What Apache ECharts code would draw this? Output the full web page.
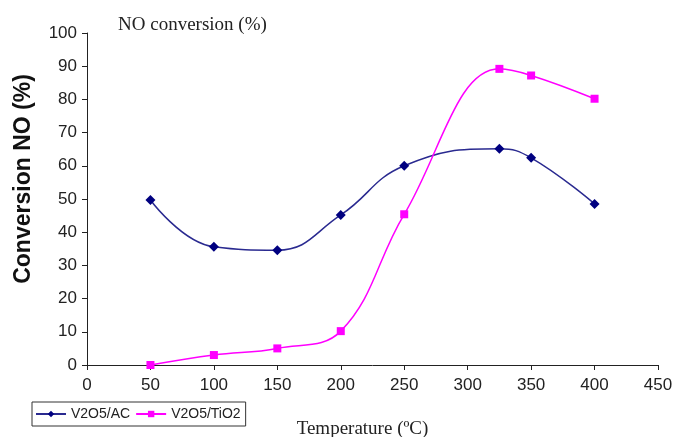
<!DOCTYPE html>
<html>
<head>
<meta charset="utf-8">
<script src="https://cdn.jsdelivr.net/npm/echarts@6/dist/echarts.min.js"></script>
<style>
  html, body { margin: 0; padding: 0; background: #fff; }
  #chart { width: 677px; height: 437px; }
</style>
</head>
<body>
<div id="chart"></div>
<script>
// temperatures (°C)
var temps = [50, 100, 150, 200, 250, 325, 350, 400];
// NO conversion (%) per catalyst
var acValues = [49.7, 35.6, 34.6, 45.2, 60.0, 65.1, 62.4, 48.5];
var tiValues = [0, 3.0, 5.0, 10.2, 45.4, 89.2, 87.2, 80.2];

function pairs(xs, ys) {
    return xs.map(function (x, i) { return [x, ys[i]]; });
}

var chart = echarts.init(document.getElementById('chart'));

var option = {
    animation: false,
    backgroundColor: '#fff',
    title: {
        text: 'NO conversion (%)',
        left: 113,
        top: 11,
        textStyle: { fontFamily: 'Liberation Serif', fontWeight: 'normal', fontSize: 19, color: '#222' }
    },
    grid: { left: 87, right: 19, top: 33, bottom: 72, outerBoundsMode: 'none' },
    legend: {
        left: 32,
        top: 402,
        itemWidth: 30,
        itemHeight: 8,
        itemGap: 5,
        padding: [5, 5, 5, 3],
        borderColor: '#333',
        borderWidth: 1,
        textStyle: { fontFamily: 'Liberation Sans', fontSize: 14, color: '#222' },
        data: ['V2O5/AC', 'V2O5/TiO2']
    },
    xAxis: {
        type: 'value',
        min: 0,
        max: 450,
        interval: 50,
        name: 'Temperature (ºC)',
        nameLocation: 'middle',
        nameGap: 55,
        nameTextStyle: { fontFamily: 'Liberation Serif', fontSize: 19, color: '#222', padding: [0, 20, 0, 0] },
        axisLine: { lineStyle: { color: '#222' } },
        axisTick: { length: 5, lineStyle: { color: '#222' } },
        axisLabel: { fontFamily: 'Liberation Sans', fontSize: 17, color: '#222', margin: 12 },
        splitLine: { show: false }
    },
    yAxis: {
        type: 'value',
        min: 0,
        max: 100,
        interval: 10,
        name: 'Conversion NO (%)',
        nameLocation: 'middle',
        nameGap: 52,
        nameTextStyle: { fontFamily: 'Liberation Sans', fontWeight: 'bold', fontSize: 23, color: '#111', padding: [0, 0, 0, 40] },
        axisLine: { show: true, lineStyle: { color: '#222' } },
        axisTick: { show: true, length: 5, lineStyle: { color: '#222' } },
        axisLabel: { fontFamily: 'Liberation Sans', fontSize: 17, color: '#222', margin: 10 },
        splitLine: { show: false }
    },
    series: [
        {
            name: 'V2O5/AC',
            type: 'line',
            smooth: 0.45,
            data: pairs(temps, acValues),
            symbol: 'diamond',
            symbolSize: 10,
            itemStyle: { color: '#000080' },
            lineStyle: { color: '#2a2a90', width: 1.5 }
        },
        {
            name: 'V2O5/TiO2',
            type: 'line',
            smooth: 0.4,
            data: pairs(temps, tiValues),
            symbol: 'rect',
            symbolSize: 8,
            itemStyle: { color: '#ff00ff' },
            lineStyle: { color: '#ff00ff', width: 1.5 }
        }
    ]
};

chart.setOption(option);
</script>
</body>
</html>
